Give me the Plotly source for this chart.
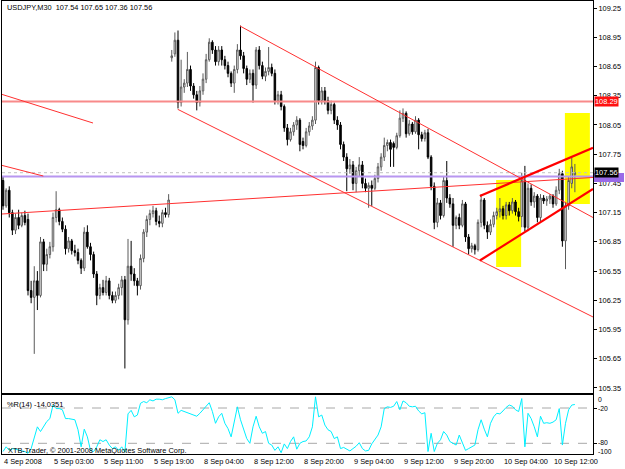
import plotly.graph_objects as go

# ---------------- data ----------------
time_labels = ["4 Sep 2008", "5 Sep 03:00", "5 Sep 11:00", "5 Sep 19:00", "8 Sep 04:00",
               "8 Sep 12:00", "8 Sep 20:00", "9 Sep 04:00", "9 Sep 12:00", "9 Sep 20:00",
               "10 Sep 04:00", "10 Sep 12:00"]
time_label_bars = [0, 16, 32, 48, 64, 80, 96, 112, 128, 144, 160, 176]

opens = [
    107.48, 107.22, 107.38, 107.15, 106.97, 107.10, 107.02, 107.12, 107.08, 106.35,
    106.28, 106.45, 106.30, 106.85, 106.62, 106.72, 106.80, 107.10, 107.18, 107.06,
    106.98, 106.78, 106.86, 106.76, 106.74, 106.66, 106.58, 106.95, 106.80, 106.72,
    106.52, 106.30, 106.38, 106.33, 106.45, 106.30, 106.25, 106.30, 106.38, 106.46,
    106.05, 106.60, 106.52, 106.45, 106.40, 106.68, 106.95, 107.08, 107.14, 107.17,
    107.06, 107.04, 107.15, 107.13, 108.74, 108.78, 108.92, 108.28, 108.44, 108.48,
    108.62, 108.45, 108.36, 108.28, 108.40, 108.52, 108.72, 108.90, 108.82, 108.70,
    108.82, 108.72, 108.66, 108.58, 108.48, 108.62, 108.82, 108.76, 108.63, 108.52,
    108.58, 108.46, 108.82, 108.66, 108.55, 108.60, 108.64, 108.58, 108.30, 108.36,
    108.24, 108.02, 107.90, 107.98, 108.05, 108.10, 107.88, 107.84, 107.98, 108.04,
    108.10, 108.64, 108.30, 108.40, 108.30, 108.20, 108.26, 108.10, 108.05, 107.85,
    107.72, 107.60, 107.64, 107.45, 107.58, 107.64, 107.45, 107.40, 107.43, 107.40,
    107.50, 107.62, 107.72, 107.84, 107.87, 107.86, 107.82, 107.94, 108.12, 108.17,
    107.96, 108.06, 107.98, 108.10, 107.95, 107.91, 107.97, 107.72, 107.42, 107.05,
    107.25, 107.12, 107.48, 107.30, 107.24, 107.02, 107.10, 107.02, 107.24, 106.90,
    106.78, 106.81, 106.77, 107.05, 107.28, 107.02, 106.95, 107.03, 107.12, 107.16,
    107.19, 107.12, 107.23, 107.17, 107.26, 107.16, 107.11, 107.48, 107.00, 107.40,
    107.26, 107.32, 107.10, 107.30, 107.27, 107.29, 107.32, 107.24, 107.38, 107.55,
    106.86, 107.22, 107.45, 107.54]
highs = [
    107.52, 107.40, 107.42, 107.18, 107.14, 107.18, 107.15, 107.17, 107.14, 106.45,
    106.60, 106.55, 106.90, 106.88, 106.78, 106.85, 107.15, 107.37, 107.20, 107.10,
    107.02, 106.90, 106.88, 106.82, 106.78, 106.68, 107.00, 107.02, 106.84, 106.75,
    106.55, 106.42, 106.46, 106.50, 106.48, 106.34, 106.34, 106.42, 106.50, 106.50,
    106.88, 106.86, 106.58, 106.48, 106.72, 106.98, 107.12, 107.18, 107.22, 107.20,
    107.12, 107.18, 107.20, 107.34, 108.82, 109.00, 109.02, 108.72, 108.52, 108.80,
    108.66, 108.48, 108.40, 108.45, 108.58, 108.78, 108.94, 108.92, 108.86, 108.86,
    108.86, 108.76, 108.70, 108.60, 108.66, 108.88, 109.07, 108.80, 108.66, 108.62,
    108.62, 108.85, 108.86, 108.70, 108.64, 108.85, 108.68, 108.62, 108.40, 108.40,
    108.26, 108.06, 108.02, 108.08, 108.14, 108.12, 107.92, 108.02, 108.08, 108.14,
    108.70, 108.66, 108.44, 108.44, 108.34, 108.30, 108.28, 108.14, 108.08, 107.88,
    107.76, 107.70, 107.68, 107.62, 107.72, 107.68, 107.50, 107.46, 107.48, 107.54,
    107.66, 107.76, 107.92, 107.90, 107.90, 107.88, 107.97, 108.20, 108.22, 108.19,
    108.10, 108.08, 108.14, 108.12, 107.98, 108.00, 108.01, 107.74, 107.46, 107.30,
    107.28, 107.52, 107.68, 107.34, 107.30, 107.12, 107.14, 107.28, 107.26, 106.93,
    106.84, 106.83, 107.08, 107.34, 107.30, 107.06, 107.08, 107.16, 107.20, 107.30,
    107.22, 107.26, 107.26, 107.30, 107.28, 107.20, 107.56, 107.63, 107.45, 107.44,
    107.36, 107.34, 107.34, 107.33, 107.32, 107.34, 107.34, 107.42, 107.60, 107.58,
    107.26, 107.52, 107.72, 107.65]
lows = [
    107.18, 107.20, 107.10, 106.92, 106.93, 106.98, 107.00, 107.02, 106.30, 106.22,
    105.70, 106.15, 106.28, 106.55, 106.55, 106.68, 106.75, 107.05, 107.02, 106.95,
    106.72, 106.74, 106.72, 106.70, 106.62, 106.52, 106.55, 106.78, 106.66, 106.48,
    106.20, 106.26, 106.30, 106.30, 106.26, 106.22, 106.22, 106.26, 106.30, 105.55,
    106.00, 106.45, 106.40, 106.30, 106.36, 106.64, 106.90, 107.02, 107.10, 107.02,
    107.00, 107.00, 107.10, 107.10, 108.70, 108.75, 108.22, 108.24, 108.38, 108.44,
    108.40, 108.32, 108.20, 108.24, 108.36, 108.48, 108.70, 108.78, 108.66, 108.66,
    108.66, 108.62, 108.54, 108.44, 108.38, 108.58, 108.72, 108.58, 108.46, 108.48,
    108.28, 108.42, 108.62, 108.52, 108.50, 108.56, 108.55, 108.26, 108.26, 108.20,
    107.98, 107.84, 107.88, 107.94, 108.00, 107.78, 107.80, 107.82, 107.94, 108.00,
    108.06, 108.26, 108.26, 108.26, 108.16, 108.16, 108.06, 108.00, 107.80, 107.68,
    107.37, 107.55, 107.38, 107.36, 107.52, 107.40, 107.36, 107.20, 107.22, 107.38,
    107.46, 107.58, 107.68, 107.78, 107.62, 107.62, 107.80, 107.92, 108.08, 107.92,
    107.94, 107.95, 107.96, 107.80, 107.88, 107.88, 107.70, 107.38, 106.98, 107.00,
    107.08, 107.10, 107.25, 107.20, 106.80, 106.98, 106.98, 107.00, 106.85, 106.72,
    106.74, 106.72, 106.75, 107.00, 106.98, 106.88, 106.92, 107.00, 107.08, 107.10,
    107.08, 107.08, 107.12, 107.14, 107.12, 107.06, 107.00, 106.96, 106.96, 107.22,
    107.20, 107.05, 107.06, 107.24, 107.22, 107.24, 107.20, 107.22, 107.34, 106.80,
    106.57, 107.18, 107.40, 107.36]
closes = [
    107.22, 107.38, 107.15, 106.97, 107.10, 107.02, 107.12, 107.05, 106.35, 106.28,
    106.45, 106.30, 106.85, 106.62, 106.72, 106.80, 107.10, 107.18, 107.06, 106.98,
    106.78, 106.86, 106.76, 106.74, 106.66, 106.58, 106.95, 106.80, 106.72, 106.52,
    106.30, 106.38, 106.33, 106.45, 106.30, 106.25, 106.30, 106.38, 106.46, 106.05,
    106.60, 106.52, 106.45, 106.40, 106.68, 106.95, 107.08, 107.14, 107.17, 107.06,
    107.04, 107.15, 107.13, 107.28, 108.76, 108.92, 108.28, 108.44, 108.48, 108.62,
    108.45, 108.36, 108.28, 108.40, 108.52, 108.72, 108.90, 108.82, 108.70, 108.82,
    108.72, 108.66, 108.58, 108.48, 108.62, 108.82, 108.76, 108.63, 108.52, 108.58,
    108.46, 108.82, 108.66, 108.55, 108.60, 108.64, 108.58, 108.30, 108.36, 108.24,
    108.02, 107.90, 107.98, 108.05, 108.10, 107.85, 107.84, 107.98, 108.04, 108.10,
    108.64, 108.30, 108.40, 108.30, 108.20, 108.26, 108.10, 108.05, 107.85, 107.72,
    107.60, 107.64, 107.45, 107.58, 107.64, 107.45, 107.40, 107.43, 107.40, 107.50,
    107.62, 107.72, 107.84, 107.87, 107.80, 107.82, 107.94, 108.12, 108.17, 107.96,
    108.06, 107.98, 108.10, 107.95, 107.91, 107.97, 107.72, 107.42, 107.05, 107.25,
    107.12, 107.48, 107.30, 107.24, 107.02, 107.10, 107.02, 107.24, 106.90, 106.78,
    106.81, 106.77, 107.05, 107.28, 107.02, 106.95, 107.03, 107.12, 107.16, 107.19,
    107.12, 107.23, 107.17, 107.26, 107.16, 107.11, 107.48, 107.00, 107.40, 107.26,
    107.32, 107.10, 107.30, 107.27, 107.29, 107.32, 107.24, 107.38, 107.55, 106.86,
    107.22, 107.48, 107.62, 107.56]
wpr = [
    -94, -86, -92, -89, -90, -92, -93, -94, -97, -89,
    -69, -52, -60, -52, -43, -38, -15, -21, -21, -23,
    -38, -38, -39, -40, -57, -86, -56, -69, -92, -94,
    -86, -74, -77, -74, -83, -89, -86, -92, -86, -95,
    -30, -24, -35, -32, -12, -9, -11, -6, -8, -5,
    -5, -6, -4, -2, -1, -6, -29, -24, -26, -28,
    -29, -32, -34, -29, -23, -18, -11, -26, -46, -35,
    -29, -46, -55, -69, -40, -18, -40, -57, -72, -80,
    -52, -34, -52, -63, -60, -80, -83, -92, -86, -96,
    -81, -89, -77, -69, -90, -80, -77, -76, -69, -52,
    -1, -35, -32, -49, -57, -60, -72, -69, -89, -87,
    -90, -93, -89, -85, -79, -89, -93, -92, -81, -74,
    -66, -52, -21, -18, -19, -17, -9, -23, -8, -11,
    -17, -18, -17, -25, -30, -28, -94, -63, -94, -80,
    -74, -60, -66, -77, -80, -83, -66, -79, -92, -89,
    -86, -83, -57, -40, -56, -69, -46, -35, -29, -30,
    -25, -19, -15, -17, -23, -26, -4, -86, -29, -38,
    -52, -69, -34, -46, -45, -46, -44, -40, -21, -83,
    -46, -23, -15, -14.0351]
bars = list(range(len(closes)))

price_ticks = [109.25, 108.95, 108.65, 108.35, 108.05, 107.75, 107.45,
               107.15, 106.85, 106.55, 106.25, 105.95, 105.65, 105.35]
wpr_levels = [-20, -80]
wpr_label_top = ["0", "-20"]
wpr_label_bottom = ["-80", "-100"]

# trend lines drawn on the chart: (bar0, price0, bar1, price1)
thin_lines = [
    (-0.32, 108.364, 28.8, 108.070),
    (-0.32, 107.635, 12.9, 107.526),
    (-0.32, 107.136, 188.8, 107.511),
    (75.84, 109.066, 188.8, 107.100),
    (55.9, 108.211, 188.8, 106.079),
]
thick_lines = [
    (152.6, 107.320, 188.8, 107.817),
    (152.6, 106.659, 188.8, 107.393),
]
yellow_boxes = [
    (157.8, 106.592, 165.8, 107.484),
    (179.8, 107.239, 187.8, 108.173),
]
hline_red = 108.29
hline_purple = 107.52
bid = 107.56

header = "USDJPY,M30  107.54 107.65 107.36 107.56"
ind_title = "%R(14) -14.0351"
copyright_txt = "XTB-Trader, © 2001-2008 MetaQuotes Software Corp."

# ---------------- figure ----------------
FONT = "Liberation Sans, Arial, sans-serif"
FS = 7.4
XR = [-0.32, 188.8]
H_PLOT = 453.0          # plot-area height in px (t=1, b=15)


def py(px):             # pixel row -> paper fraction (for text placement only)
    return (454.0 - px) / H_PLOT


fig = go.Figure()
fig.add_trace(go.Candlestick(
    x=bars, open=opens, high=highs, low=lows, close=closes,
    xaxis="x", yaxis="y", whiskerwidth=0,
    increasing=dict(line=dict(color="#5a5a5a", width=1), fillcolor="#ffffff"),
    decreasing=dict(line=dict(color="#000000", width=1), fillcolor="#000000"),
    showlegend=False, hoverinfo="skip"))
fig.add_trace(go.Scatter(
    x=bars, y=wpr, xaxis="x2", yaxis="y2", mode="lines",
    line=dict(color="#00f0ff", width=1), showlegend=False, hoverinfo="skip"))

shapes = []
for (x0, y0, x1, y1) in yellow_boxes:
    shapes.append(dict(type="rect", xref="x", yref="y", x0=x0, y0=y0, x1=x1, y1=y1,
                       fillcolor="#ffff00", line=dict(width=0), layer="below"))
shapes.append(dict(type="line", xref="x domain", yref="y", x0=0, x1=1, y0=bid, y1=bid,
                   line=dict(color="#c0c0c0", width=1, dash="dot"), layer="above"))
shapes.append(dict(type="line", xref="x domain", yref="y", x0=0, x1=1,
                   y0=hline_purple, y1=hline_purple,
                   line=dict(color="#b896f0", width=2), layer="above"))
shapes.append(dict(type="line", xref="x domain", yref="y", x0=0, x1=1,
                   y0=hline_red, y1=hline_red,
                   line=dict(color="#f88a8a", width=2), layer="above"))
for (x0, y0, x1, y1) in thin_lines:
    shapes.append(dict(type="line", xref="x", yref="y", x0=x0, y0=y0, x1=x1, y1=y1,
                       line=dict(color="#ff3030", width=1), layer="above"))
for (x0, y0, x1, y1) in thick_lines:
    shapes.append(dict(type="line", xref="x", yref="y", x0=x0, y0=y0, x1=x1, y1=y1,
                       line=dict(color="#ff0000", width=2.2), layer="above"))
for lv in wpr_levels:
    shapes.append(dict(type="line", xref="x2 domain", yref="y2", x0=0, x1=1, y0=lv, y1=lv,
                       line=dict(color="#a8a8a8", width=1, dash="dash"), layer="below"))
# purple price marker on the scale (mostly hidden behind the bid box)
shapes.append(dict(type="rect", xref="paper", yref="paper",
                   x0=1.0017, x1=1.0525, y0=py(182), y1=py(173),
                   fillcolor="#9a6ae8", line=dict(width=0), layer="above"))

ann = []
ann.append(dict(text=header, xref="paper", yref="paper", x=0.005, y=py(8),
                xanchor="left", yanchor="middle", showarrow=False,
                font=dict(family=FONT, size=FS, color="black")))
ann.append(dict(text=ind_title, xref="paper", yref="paper", x=0.005, y=py(404),
                xanchor="left", yanchor="middle", showarrow=False,
                font=dict(family=FONT, size=FS, color="black")))
ann.append(dict(text=copyright_txt, xref="paper", yref="paper", x=0.006, y=py(450),
                xanchor="left", yanchor="middle", showarrow=False,
                font=dict(family=FONT, size=FS, color="black")))
for lab, b in zip(time_labels, time_label_bars):
    ann.append(dict(text=lab, xref="x2", yref="paper", x=b, y=py(461.7), xshift=-1,
                    xanchor="left", yanchor="middle", showarrow=False,
                    font=dict(family=FONT, size=FS, color="black")))
# indicator scale labels (two stacked pairs, as on the original scale)
ann.append(dict(text="<br>".join(wpr_label_top), xref="paper", yref="paper", x=1,
                y=py(404.0), xshift=3, xanchor="left", yanchor="middle", align="left",
                showarrow=False, font=dict(family=FONT, size=6.8, color="black")))
ann.append(dict(text="<br>".join(wpr_label_bottom), xref="paper", yref="paper", x=1,
                y=py(446.5), xshift=3, xanchor="left", yanchor="middle", align="left",
                showarrow=False, font=dict(family=FONT, size=6.8, color="black")))
# price boxes on the scale
ann.append(dict(text="108.29", xref="paper", yref="y", x=1, y=hline_red, xshift=1,
                xanchor="left", yanchor="middle", showarrow=False, bgcolor="#ff1010",
                borderpad=0, font=dict(family=FONT, size=FS, color="white")))
ann.append(dict(text="107.56", xref="paper", yref="y", x=1, y=bid, xshift=1,
                xanchor="left", yanchor="middle", showarrow=False, bgcolor="#000000",
                borderpad=0, font=dict(family=FONT, size=FS, color="white")))

axis_common = dict(showgrid=False, zeroline=False, showline=True, mirror=True,
                   linecolor="black", linewidth=1, fixedrange=True)

fig.update_layout(
    width=625, height=469,
    margin=dict(l=2, r=32, t=1, b=15, autoexpand=False),
    paper_bgcolor="white", plot_bgcolor="white",
    showlegend=False,
    xaxis=dict(domain=[0, 1], range=XR, anchor="y", showticklabels=False, ticks="",
               rangeslider=dict(visible=False), **axis_common),
    yaxis=dict(domain=[0.13466, 1], range=[105.2983, 109.3229], anchor="x", side="right",
               tickvals=price_ticks, ticktext=[f"{v:.2f}" for v in price_ticks],
               ticks="outside", ticklen=3, tickcolor="black",
               tickfont=dict(family=FONT, size=FS, color="black"), **axis_common),
    xaxis2=dict(domain=[0, 1], range=XR, anchor="y2", showticklabels=False,
                ticks="", **axis_common),
    yaxis2=dict(domain=[0, 0.13024], range=[-98.19, 2.1], anchor="x2", side="right",
                tickvals=wpr_levels, ticks="outside", ticklen=3, tickcolor="black",
                showticklabels=False, **axis_common),
    shapes=shapes, annotations=ann,
)

fig.write_html("out.html")
